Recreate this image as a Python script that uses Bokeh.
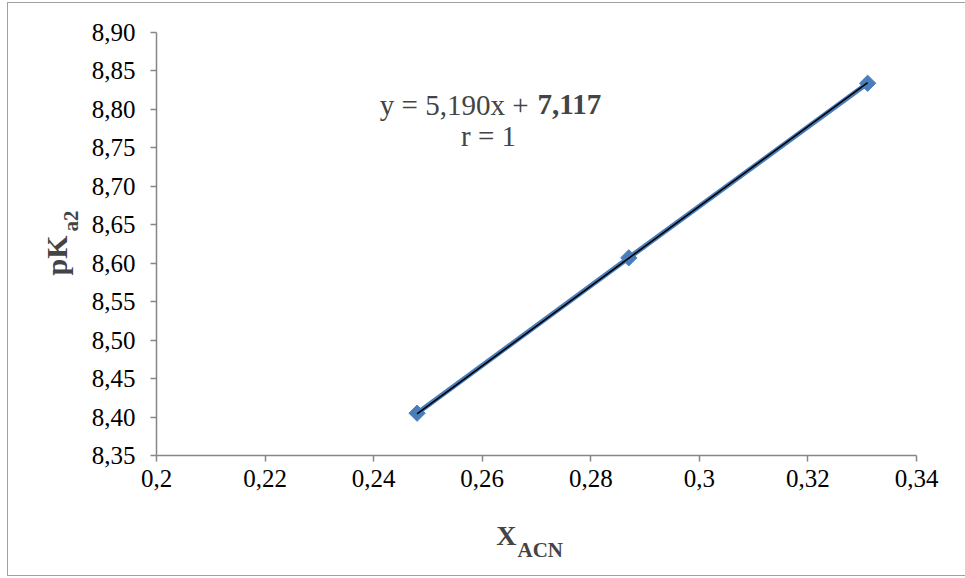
import math
from bokeh.plotting import figure
from bokeh.models import (Range1d, FixedTicker, Label, ColumnDataSource)
from bokeh.embed import file_html
from bokeh.resources import INLINE

# measured data: acetonitrile mole fraction vs pKa2
x_acn = [0.248, 0.287, 0.331]
pka2 = [8.405, 8.607, 8.834]

# linear fit reported on the chart
slope = 5.190
intercept = 7.117

x_ticks = [0.20, 0.22, 0.24, 0.26, 0.28, 0.30, 0.32, 0.34]
x_tick_labels = ["0,2", "0,22", "0,24", "0,26", "0,28", "0,3", "0,32", "0,34"]
y_ticks = [8.35, 8.40, 8.45, 8.50, 8.55, 8.60, 8.65, 8.70, 8.75, 8.80, 8.85, 8.90]
y_tick_labels = ["8,35", "8,40", "8,45", "8,50", "8,55", "8,60", "8,65", "8,70",
                 "8,75", "8,80", "8,85", "8,90"]

FONT = "Liberation Serif"
AXIS_GREY = "#868686"
BLUE = "#4a7ebb"

# chart box sits 8px from the left and 3px from the top of the page
OX, OY = 8, 3
W, H = 957, 572
FL, FR, FT, FB = 156 - OX, 916 - OX, 32 - OY, 455 - OY   # frame edges on the canvas
X0, X1 = 0.2, 0.34
Y0, Y1 = 8.35, 8.90


def px_x(px):
    return X0 + (px - OX - FL) / (FR - FL) * (X1 - X0)


def px_y(py):
    return Y1 - (py - OY - FT) / (FB - FT) * (Y1 - Y0)


p = figure(width=W, height=H, output_backend="svg", toolbar_location=None,
           x_range=Range1d(X0, X1), y_range=Range1d(Y0, Y1),
           min_border_left=FL, min_border_right=W - FR,
           min_border_top=FT, min_border_bottom=H - FB,
           margin=(OY, 0, 0, OX),
           styles={"outline": "1.5px solid #a0a0a0"})
p.outline_line_color = None
p.grid.visible = False
p.background_fill_color = "white"
p.border_fill_color = "white"

p.axis.axis_line_color = AXIS_GREY
p.axis.axis_line_width = 1.5
p.axis.major_tick_line_color = AXIS_GREY
p.axis.major_tick_line_width = 1.5
p.axis.major_tick_out = 6
p.axis.major_tick_in = 0
p.axis.minor_tick_line_color = None
p.axis.major_label_text_font = FONT
p.axis.major_label_text_font_size = "25px"
p.axis.major_label_text_color = "black"

p.xaxis.ticker = FixedTicker(ticks=x_ticks)
p.xaxis.major_label_overrides = dict(zip(x_ticks, x_tick_labels))
p.xaxis.major_label_standoff = 8
p.yaxis.ticker = FixedTicker(ticks=y_ticks)
p.yaxis.major_label_overrides = dict(zip(y_ticks, y_tick_labels))
p.yaxis.major_label_standoff = 15

src = ColumnDataSource(dict(x=x_acn, y=pka2))
p.line("x", "y", source=src, line_color=BLUE, line_width=5)
p.scatter("x", "y", source=src, marker="square", angle=math.pi / 4,
          size=11.5, fill_color=BLUE, line_color=BLUE)

# trendline from the fitted equation
tx = [min(x_acn), max(x_acn)]
ty = [slope * v + intercept for v in tx]
p.line(tx, ty, line_color="black", line_width=1.6)

# equation text
p.add_layout(Label(x=px_x(528), y=px_y(104), text="y = 5,190x +", text_font=FONT,
                   text_font_size="29px", text_align="right", text_baseline="alphabetic"))
p.add_layout(Label(x=px_x(537), y=px_y(104), text="7,117", text_font=FONT,
                   text_font_size="29px", text_font_style="bold",
                   text_align="left", text_baseline="alphabetic"))
p.add_layout(Label(x=px_x(488), y=px_y(135), text="r = 1", text_font=FONT,
                   text_font_size="29px", text_align="center", text_baseline="alphabetic"))

# axis titles live in the side panels so they are not clipped to the frame
p.add_layout(Label(x=px_x(516), y=-15, x_units="data", y_units="screen", text="X",
                   text_font=FONT, text_font_size="28px", text_font_style="bold",
                   text_align="right", text_baseline="alphabetic"), "below")
p.add_layout(Label(x=px_x(517), y=-5, x_units="data", y_units="screen", text="ACN",
                   text_font=FONT, text_font_size="21px", text_font_style="bold",
                   text_align="left", text_baseline="alphabetic"), "below")
p.add_layout(Label(x=1, y=px_y(275), x_units="screen", y_units="data", text="pK",
                   text_font=FONT, text_font_size="30px", text_font_style="bold",
                   angle=math.pi / 2, text_align="left", text_baseline="alphabetic"), "left")
p.add_layout(Label(x=39, y=px_y(231), x_units="screen", y_units="data", text="a2",
                   text_font=FONT, text_font_size="21px", text_font_style="bold",
                   angle=math.pi / 2, text_align="left", text_baseline="alphabetic"), "left")

open("out.html", "w").write(file_html(p, INLINE))
